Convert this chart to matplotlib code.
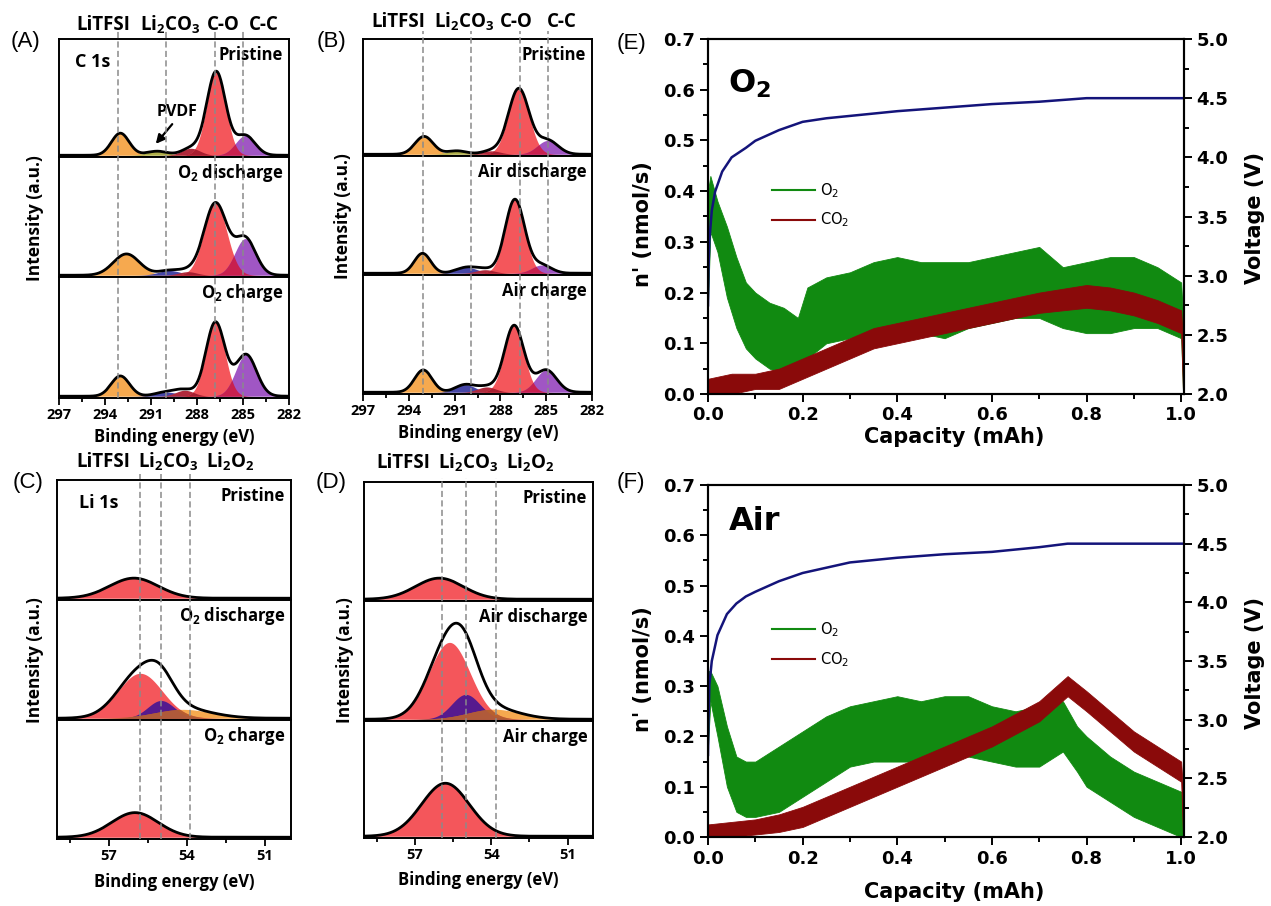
import numpy as np
import matplotlib.pyplot as plt
import matplotlib.transforms as mtransforms
from matplotlib.lines import Line2D
from matplotlib.ticker import MultipleLocator

# XPS fits (A-D) and DEMS gas evolution on charge (E, F)
plt.rcParams['mathtext.default'] = 'regular'

W, H = 1271, 906
XPS_FONT = 'Open Sans'
GAS_FONT = 'DejaVu Sans'

# ---------------- XPS peak fits: (component, centre eV, height, FWHM eV) ----------------
c1s_o2_pristine = [("LiTFSI", 293.0, 0.19, 1.35), ("PVDF", 290.6, 0.035, 1.6),
                   ("O-C=O", 288.4, 0.06, 1.4), ("C-O", 286.75, 0.72, 1.45), ("C-C", 284.85, 0.17, 1.5)]
c1s_o2_discharge = [("LiTFSI", 292.6, 0.18, 2.0), ("Li2CO3", 289.8, 0.04, 1.7),
                    ("O-C=O", 288.6, 0.03, 1.4), ("C-O", 286.8, 0.61, 1.75), ("C-C", 284.85, 0.31, 1.6)]
c1s_o2_charge = [("LiTFSI", 293.0, 0.17, 1.4), ("Li2CO3", 290.0, 0.035, 1.7),
                 ("O-C=O", 288.8, 0.05, 1.4), ("C-O", 286.8, 0.62, 1.45), ("C-C", 284.8, 0.35, 1.6)]

c1s_air_pristine = [("LiTFSI", 293.0, 0.155, 1.4), ("PVDF", 290.85, 0.03, 1.5),
                    ("O-C=O", 288.6, 0.03, 1.4), ("C-O", 286.8, 0.57, 1.6), ("C-C", 284.9, 0.12, 1.6)]
c1s_air_discharge = [("LiTFSI", 293.1, 0.17, 1.25), ("Li2CO3", 290.2, 0.05, 1.6),
                     ("O-C=O", 289.0, 0.03, 1.4), ("C-O", 287.05, 0.63, 1.5), ("C-C", 285.3, 0.07, 1.5)]
c1s_air_charge = [("LiTFSI", 293.05, 0.19, 1.35), ("Li2CO3", 290.3, 0.065, 1.5),
                  ("O-C=O", 288.9, 0.045, 1.4), ("C-O", 287.1, 0.57, 1.5), ("C-C", 285.0, 0.19, 1.6)]

li1s_o2_pristine = [("LiTFSI", 56.04, 0.17, 2.2)]
li1s_o2_discharge = [("Li2O2", 54.15, 0.075, 2.6), ("LiTFSI", 55.8, 0.38, 2.0), ("Li2CO3", 55.0, 0.15, 1.2)]
li1s_o2_charge = [("LiTFSI", 56.0, 0.21, 2.1)]

li1s_air_pristine = [("LiTFSI", 56.04, 0.18, 2.2)]
li1s_air_discharge = [("Li2O2", 53.9, 0.085, 2.4), ("LiTFSI", 55.64, 0.65, 1.9), ("Li2CO3", 55.0, 0.21, 1.3)]
li1s_air_charge = [("LiTFSI", 55.8, 0.46, 2.2)]

c1s_colors = {"LiTFSI": "#f6a94f", "PVDF": "#b0b04a", "Li2CO3": "#4646a6",
              "O-C=O": "#b02a3c", "C-O": "#f4565b", "C-C": "#a056c4"}
c1s_overlap = {("C-O", "C-C"): "#c8204e", ("O-C=O", "C-O"): "#a81e30"}
li1s_colors = {"LiTFSI": "#f4565b", "Li2CO3": "#561a8e", "Li2O2": "#f6a94f"}
li1s_overlap = {("Li2O2", "LiTFSI"): "#b8602e", ("Li2O2", "Li2CO3"): "#b05a3a"}

c1s_refs_o2 = [293.15, 290.0, 286.8, 285.0]
c1s_refs_air = [293.1, 289.9, 286.7, 284.9]
li1s_refs_o2 = [55.8, 55.0, 53.9]
li1s_refs_air = [55.95, 55.0, 53.8]
c1s_ref_names = ["LiTFSI", "Li$_2$CO$_3$", "C-O", "C-C"]
li1s_ref_names = ["LiTFSI", "Li$_2$CO$_3$", "Li$_2$O$_2$"]

# ---------------- DEMS: capacity (mAh) vs band limits of n' (nmol/s) ----------------
o2_cap_e = [0.0, 0.005, 0.02, 0.04, 0.06, 0.08, 0.10, 0.13, 0.16, 0.19, 0.21, 0.25, 0.30, 0.35,
            0.40, 0.45, 0.50, 0.55, 0.60, 0.65, 0.70, 0.75, 0.80, 0.85, 0.90, 0.95, 1.00, 1.004]
o2_low_e = [0.18, 0.32, 0.28, 0.19, 0.13, 0.09, 0.07, 0.05, 0.04, 0.04, 0.07, 0.10, 0.11, 0.12,
            0.12, 0.12, 0.11, 0.13, 0.14, 0.15, 0.15, 0.13, 0.12, 0.12, 0.13, 0.13, 0.11, 0.0]
o2_high_e = [0.40, 0.43, 0.38, 0.33, 0.27, 0.22, 0.20, 0.18, 0.17, 0.15, 0.21, 0.23, 0.24, 0.26,
             0.27, 0.26, 0.26, 0.26, 0.27, 0.28, 0.29, 0.25, 0.26, 0.27, 0.27, 0.25, 0.22, 0.15]
co2_cap_e = [0.0, 0.05, 0.10, 0.15, 0.20, 0.25, 0.30, 0.35, 0.40, 0.50, 0.60, 0.70, 0.80,
             0.85, 0.90, 0.95, 1.00, 1.004]
co2_low_e = [0.0, 0.0, 0.01, 0.01, 0.03, 0.05, 0.07, 0.09, 0.10, 0.12, 0.14, 0.16, 0.17,
             0.165, 0.155, 0.14, 0.12, 0.0]
co2_high_e = [0.03, 0.04, 0.04, 0.05, 0.07, 0.09, 0.11, 0.13, 0.14, 0.16, 0.18, 0.20, 0.215,
              0.21, 0.20, 0.185, 0.165, 0.10]
volt_cap_e = [0.0, 0.001, 0.003, 0.008, 0.015, 0.03, 0.05, 0.08, 0.10, 0.15, 0.20, 0.25,
              0.30, 0.40, 0.50, 0.60, 0.70, 0.80, 0.82, 1.004]
volt_e = [2.75, 3.05, 3.30, 3.55, 3.71, 3.88, 4.00, 4.08, 4.14, 4.23, 4.30, 4.33,
          4.35, 4.39, 4.42, 4.45, 4.47, 4.50, 4.50, 4.50]

o2_cap_f = [0.0, 0.005, 0.02, 0.04, 0.06, 0.08, 0.10, 0.15, 0.20, 0.25, 0.30, 0.35, 0.40,
            0.45, 0.50, 0.55, 0.60, 0.65, 0.70, 0.75, 0.78, 0.80, 0.85, 0.90, 0.95, 1.00, 1.004]
o2_low_f = [0.18, 0.27, 0.20, 0.10, 0.05, 0.04, 0.04, 0.05, 0.08, 0.11, 0.14, 0.15, 0.15,
            0.15, 0.16, 0.16, 0.15, 0.14, 0.14, 0.17, 0.13, 0.10, 0.07, 0.04, 0.02, 0.0, 0.0]
o2_high_f = [0.33, 0.33, 0.30, 0.22, 0.16, 0.15, 0.15, 0.18, 0.21, 0.24, 0.26, 0.27, 0.28,
             0.27, 0.28, 0.28, 0.26, 0.25, 0.26, 0.27, 0.22, 0.20, 0.16, 0.13, 0.11, 0.09, 0.05]
co2_cap_f = [0.0, 0.05, 0.10, 0.15, 0.20, 0.25, 0.30, 0.40, 0.50, 0.60, 0.70, 0.76,
             0.80, 0.90, 0.95, 1.00, 1.004]
co2_low_f = [0.0, 0.0, 0.005, 0.01, 0.02, 0.04, 0.06, 0.10, 0.14, 0.18, 0.23, 0.28,
             0.25, 0.17, 0.14, 0.11, 0.0]
co2_high_f = [0.025, 0.03, 0.035, 0.045, 0.06, 0.08, 0.10, 0.14, 0.18, 0.22, 0.27, 0.32,
              0.29, 0.21, 0.18, 0.15, 0.09]
volt_cap_f = [0.0, 0.001, 0.003, 0.008, 0.02, 0.04, 0.06, 0.08, 0.10, 0.15, 0.20, 0.30,
              0.40, 0.50, 0.60, 0.70, 0.76, 1.004]
volt_f = [2.70, 3.00, 3.30, 3.50, 3.72, 3.90, 3.99, 4.05, 4.09, 4.18, 4.25, 4.34,
          4.38, 4.41, 4.43, 4.47, 4.50, 4.50]

fig = plt.figure(figsize=(W / 100, H / 100), dpi=100)


def px_axes(x0, y0, x1, y1):
    return fig.add_axes([x0 / W, 1 - y1 / H, (x1 - x0) / W, (y1 - y0) / H])


def ftext(x, y, s, **kw):
    return fig.text(x / W, 1 - y / H, s, **kw)


def gauss(x, c, h, w):
    return h * np.exp(-4 * np.log(2) * ((x - c) / w) ** 2)


def xps_panel(x0, x1, ybounds, xlim, fits, colors, overlap, conds, refs, ref_names,
              ref_x, ref_y, dash_top, tick_vals):
    axes = []
    e = np.linspace(min(xlim), max(xlim), 800)
    for i, (fit, cond) in enumerate(zip(fits, conds)):
        ax = px_axes(x0, ybounds[i], x1, ybounds[i + 1])
        ax.set_xlim(*xlim)
        ax.set_ylim(-0.015, 1.0)
        curves = {}
        for name, c, h, w in fit:
            g = gauss(e, c, h, w)
            curves[name] = g
            ax.fill_between(e, 0, g, color=colors[name], lw=0)
        for (a, b), col in overlap.items():
            if a in curves and b in curves:
                ax.fill_between(e, 0, np.minimum(curves[a], curves[b]), color=col, lw=0)
        total = np.sum(list(curves.values()), axis=0)
        ax.plot(e, total, color='black', lw=2.0)
        ax.set_yticks([])
        for s in ax.spines.values():
            s.set_linewidth(1.4)
        ax.text(0.975, 1 - 16 / 119, cond, transform=ax.transAxes, ha='right', va='center',
                fontsize=12, fontweight='bold', family=XPS_FONT)
        if i < 2:
            ax.set_xticks([])
        else:
            ax.set_xticks(tick_vals)
            ax.xaxis.set_minor_locator(MultipleLocator(1.5))
            ax.tick_params(axis='x', which='both', direction='out', width=1.3, pad=2)
            ax.tick_params(axis='x', which='major', length=5)
            ax.tick_params(axis='x', which='minor', length=3)
            for lab in ax.get_xticklabels():
                lab.set_fontweight('bold')
                lab.set_fontsize(10.5)
                lab.set_family(XPS_FONT)
        axes.append(ax)
    # reference positions as dashed guides running through the stack
    bottom = axes[-1]
    tr = mtransforms.blended_transform_factory(bottom.transData, fig.transFigure)
    for r in refs:
        fig.add_artist(Line2D([r, r], [1 - ybounds[-1] / H, 1 - dash_top / H], transform=tr,
                              color='#8a8a8a', lw=1.1, ls=(0, (4, 2.2)), zorder=5))
    for name, xc in zip(ref_names, ref_x):
        ftext(xc, ref_y, name, ha='center', va='center', fontsize=13.5, fontweight='bold',
              family=XPS_FONT)
    return axes


a_axes = xps_panel(59, 289, [39, 157, 277, 398], (297, 282),
                   [c1s_o2_pristine, c1s_o2_discharge, c1s_o2_charge], c1s_colors, c1s_overlap,
                   ["Pristine", "O$_2$ discharge", "O$_2$ charge"], c1s_refs_o2, c1s_ref_names,
                   [103, 170, 223, 264], 25, 31, [297, 294, 291, 288, 285, 282])
b_axes = xps_panel(363, 592, [39, 156, 275, 394], (297, 282),
                   [c1s_air_pristine, c1s_air_discharge, c1s_air_charge], c1s_colors, c1s_overlap,
                   ["Pristine", "Air discharge", "Air charge"], c1s_refs_air, c1s_ref_names,
                   [398, 464, 516, 562], 22, 31, [297, 294, 291, 288, 285, 282])
c_axes = xps_panel(57, 291, [480, 600, 720, 839], (59, 50),
                   [li1s_o2_pristine, li1s_o2_discharge, li1s_o2_charge], li1s_colors, li1s_overlap,
                   ["Pristine", "O$_2$ discharge", "O$_2$ charge"], li1s_refs_o2, li1s_ref_names,
                   [103, 168, 230], 462, 474, [57, 54, 51])
d_axes = xps_panel(364, 593, [482, 601, 721, 838], (59, 50),
                   [li1s_air_pristine, li1s_air_discharge, li1s_air_charge], li1s_colors, li1s_overlap,
                   ["Pristine", "Air discharge", "Air charge"], li1s_refs_air, li1s_ref_names,
                   [403, 468, 530], 463, 478, [57, 54, 51])

for x, y in [(35, 218), (343, 216), (35, 660), (345, 660)]:
    ftext(x, y, "Intensity (a.u.)", rotation=90, ha='center', va='center', fontsize=12.5,
          fontweight='bold', family=XPS_FONT)
for x, y in [(174, 437), (478, 433), (174, 882), (478, 880)]:
    ftext(x, y, "Binding energy (eV)", ha='center', va='center', fontsize=12,
          fontweight='bold', family=XPS_FONT)

ftext(75, 62, "C 1s", ha='left', va='center', fontsize=13, fontweight='bold', family=XPS_FONT)
ftext(79, 503, "Li 1s", ha='left', va='center', fontsize=13, fontweight='bold', family=XPS_FONT)
ftext(177, 112, "PVDF", ha='center', va='center', fontsize=11.5, fontweight='bold', family=XPS_FONT)
fig.add_artist(plt.Annotation("", xy=(154 / W, 1 - 146 / H), xytext=(174 / W, 1 - 122 / H),
                              xycoords='figure fraction', textcoords='figure fraction',
                              arrowprops=dict(arrowstyle='-|>', color='black', lw=1.6,
                                              mutation_scale=13)))

for lab, x, y in [("(A)", 25, 42), ("(B)", 331, 42), ("(C)", 28, 483), ("(D)", 331, 483),
                  ("(E)", 631, 43), ("(F)", 631, 482)]:
    ftext(x, y, lab, ha='center', va='center', fontsize=16, family='Liberation Sans')


# ---------------- DEMS panels ----------------
def gas_panel(box, tag, o2, co2, volt, legend_y, label_y, title_y):
    ax = px_axes(*box)
    ax.fill_between(o2[0], o2[1], o2[2], color='#118a11', lw=0.6, edgecolor='#118a11')
    ax.fill_between(co2[0], co2[1], co2[2], color='#8a0a0a', lw=0.6, edgecolor='#8a0a0a')
    ax.set_xlim(0, 1.006)
    ax.set_ylim(0, 0.7)
    ax.xaxis.set_major_locator(MultipleLocator(0.2))
    ax.xaxis.set_minor_locator(MultipleLocator(0.1))
    ax.yaxis.set_major_locator(MultipleLocator(0.1))
    ax.yaxis.set_minor_locator(MultipleLocator(0.05))
    axv = ax.twinx()
    axv.plot(volt[0], volt[1], color='#14147a', lw=1.8)
    axv.set_ylim(2.0, 5.0)
    axv.yaxis.set_major_locator(MultipleLocator(0.5))
    axv.yaxis.set_minor_locator(MultipleLocator(0.25))
    for a in (ax, axv):
        for s in a.spines.values():
            s.set_linewidth(1.5)
        a.tick_params(which='both', direction='out', width=1.4, labelsize=13, pad=3)
        a.tick_params(which='major', length=6)
        a.tick_params(which='minor', length=3.5)
        for lab in a.get_xticklabels() + a.get_yticklabels():
            lab.set_fontweight('bold')
            lab.set_family(GAS_FONT)
    ax.xaxis.set_major_formatter(plt.FormatStrFormatter('%.1f'))
    ax.yaxis.set_major_formatter(plt.FormatStrFormatter('%.1f'))
    axv.yaxis.set_major_formatter(plt.FormatStrFormatter('%.1f'))
    handles = [Line2D([], [], color='#118a11', lw=1.5), Line2D([], [], color='#8a0a0a', lw=1.5)]
    ax.legend(handles, ["O$_2$", "CO$_2$"], loc='upper left',
              bbox_to_anchor=(0.135, legend_y), frameon=False, borderpad=0,
              borderaxespad=0, handlelength=2.9, handletextpad=0.4, labelspacing=0.75,
              prop={'family': GAS_FONT, 'size': 10.5})
    ax.text(0.043, title_y, tag, transform=ax.transAxes, ha='left', va='center',
            fontsize=23, fontweight='bold', family=GAS_FONT)
    x0, y0, x1, y1 = box
    ftext(643, (y0 + y1) / 2 + 8, "n' (nmol/s)", rotation=90, ha='center', va='center',
          fontsize=15, fontweight='bold', family=GAS_FONT)
    ftext(1255, (y0 + y1) / 2 + 2, "Voltage (V)", rotation=90, ha='center', va='center',
          fontsize=15, fontweight='bold', family=GAS_FONT)
    ftext((x0 + x1) / 2 + 8, label_y, "Capacity (mAh)", ha='center', va='center',
          fontsize=15, fontweight='bold', family=GAS_FONT)
    return ax


gas_panel((708, 39, 1184, 394), "O$_2$", (o2_cap_e, o2_low_e, o2_high_e),
          (co2_cap_e, co2_low_e, co2_high_e), (volt_cap_e, volt_e), 0.60, 437, 0.875)
gas_panel((708, 485, 1184, 837), "Air", (o2_cap_f, o2_low_f, o2_high_f),
          (co2_cap_f, co2_low_f, co2_high_f), (volt_cap_f, volt_f), 0.615, 892, 0.895)

fig.savefig("out.png", dpi=100)
